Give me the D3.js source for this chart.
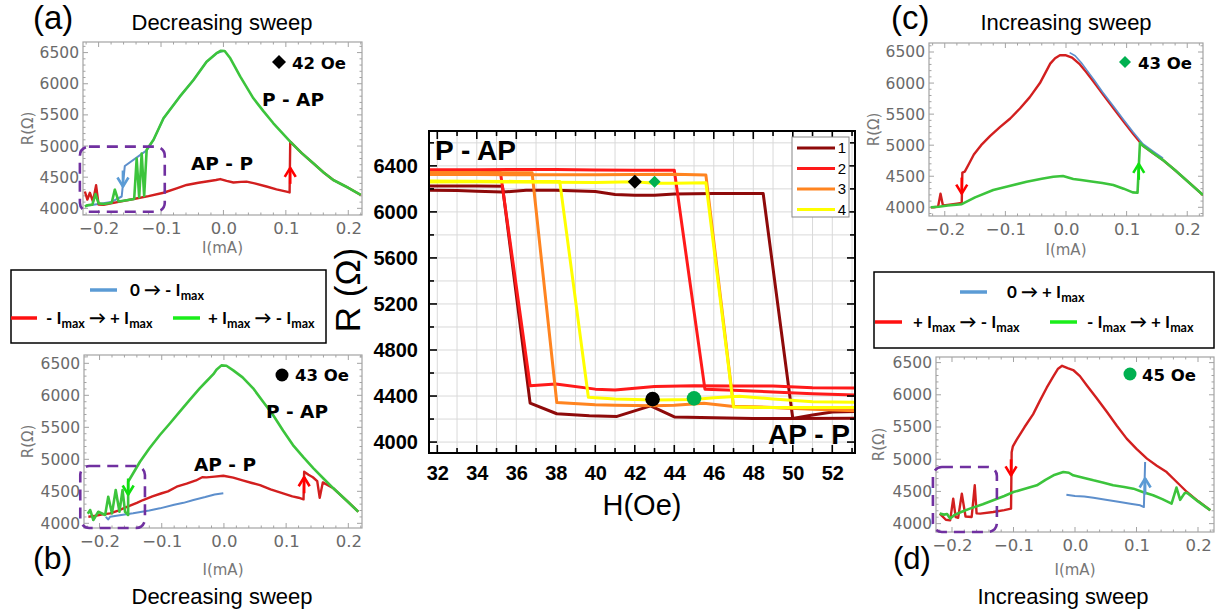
<!DOCTYPE html>
<html><head><meta charset="utf-8">
<script src="https://cdn.jsdelivr.net/npm/d3@7"></script>
<style>body{margin:0;background:#fff;}svg{display:block;}</style>
</head><body>
<script>
// ================= DATA =================
// Centre panel: R vs H hysteresis loops
const hTicks = [32,34,36,38,40,42,44,46,48,50,52];
const rTicks = [4000,4400,4800,5200,5600,6000,6400];
const loopNames = ["1","2","3","4"];
const loop1Up = [[31.6,6189],[33,6185],[34,6180],[35.3,6172],[36.5,6188],[38,6188],[40,6178],[41,6152],[42,6145],[43,6145],[44,6155],[46,6160],[48.5,6160],[50.0,4205],[51,4235],[52,4262],[53.2,4265]];
const loop1Down = [[53.2,4208],[50,4205],[48,4205],[46,4212],[44.03,4217],[42.8,4315],[41.1,4223],[39.7,4229],[38.05,4246],[36.7,4338],[35.3,6222],[34,6224],[31.6,6226]];
const loop2Up = [[31.6,6366],[34,6366],[36,6368],[38,6368],[40,6364],[42,6362],[44.0,6362],[45.55,4460],[47,4450],[49,4435],[51,4420],[53.2,4408]];
const loop2Down = [[53.2,4470],[51,4472],[49,4488],[47,4487],[45,4490],[43,4482],[41,4452],[40,4460],[38,4505],[36.7,4490],[35.2,6340],[33,6348],[31.6,6350]];
const loop3Up = [[31.6,6325],[34,6325],[36,6322],[38,6322],[40,6322],[42,6326],[44,6328],[45.6,6320],[47.0,4310],[49,4300],[51,4292],[53.2,4285]];
const loop3Down = [[53.2,4272],[51,4285],[49,4300],[47,4310],[45.5,4338],[44,4320],[43,4315],[41,4320],[40,4324],[38.05,4344],[36.8,6340],[34,6342],[31.6,6343]];
const loop4Up = [[31.6,6260],[34,6262],[36,6260],[38,6258],[40,6255],[42,6262],[43,6250],[44,6250],[45.6,6253],[47.0,4305],[49,4300],[51,4300],[53.2,4300]];
const loop4Down = [[53.2,4345],[51,4350],[49,4375],[47.3,4398],[46,4385],[45,4370],[43,4365],[41,4375],[39.65,4390],[38.2,6265],[36,6265],[31.6,6268]];
const markerH = [42, 43, 42.9, 45.0];
const markerR = [6261, 6261, 4373, 4380];

// Small panels: R(Ohm) vs I(mA)
const currentTicks = [-0.2,-0.1,0.0,0.1,0.2];
const resTicks = [4000,4500,5000,5500,6000,6500];

// (a) 42 Oe, decreasing sweep
const aBlue = [[0.000,6530],[-0.011,6490],[-0.027,6354],[-0.048,6060],[-0.070,5792],[-0.096,5445],[-0.112,5100],[-0.123,4930],[-0.158,4680],[-0.163,4190],[-0.180,4100],[-0.200,4070],[-0.220,4040]];
const aRed = [[-0.222,4270],[-0.218,4140],[-0.214,4250],[-0.209,4110],[-0.204,4370],[-0.200,4060],[-0.192,4055],[-0.170,4100],[-0.144,4150],[-0.120,4195],[-0.096,4250],[-0.075,4320],[-0.059,4375],[-0.040,4410],[-0.027,4430],[-0.012,4455],[-0.005,4470],[0.005,4440],[0.016,4415],[0.028,4425],[0.037,4428],[0.050,4400],[0.069,4350],[0.085,4305],[0.101,4268],[0.106,4255],[0.107,5070],[0.125,4890],[0.144,4723],[0.160,4580],[0.176,4455],[0.200,4330],[0.220,4215]];
const aGreen = [[0.220,4215],[0.200,4330],[0.176,4455],[0.160,4580],[0.144,4723],[0.125,4890],[0.107,5070],[0.080,5365],[0.064,5560],[0.048,5766],[0.027,6113],[0.011,6408],[0.002,6525],[-0.004,6530],[-0.011,6490],[-0.027,6354],[-0.048,6060],[-0.070,5792],[-0.096,5445],[-0.112,5100],[-0.123,4940],[-0.127,4200],[-0.131,4880],[-0.135,4180],[-0.139,4800],[-0.143,4150],[-0.155,4130],[-0.168,4110],[-0.174,4300],[-0.179,4090],[-0.192,4070],[-0.200,4080],[-0.205,4230],[-0.210,4060],[-0.218,4050],[-0.222,4030]];
const aArrowRed = [0.107, 4650];
const aArrowBlue = [-0.161, 4350];
const aBox = [-0.230, -0.094, 3946, 4990];

// (b) 43 Oe, decreasing sweep
const bBlue = [[-0.001,4469],[-0.015,4450],[-0.030,4410],[-0.049,4364],[-0.065,4320],[-0.080,4290],[-0.103,4234],[-0.120,4200],[-0.146,4156],[-0.165,4130],[-0.183,4103],[-0.186,4060],[-0.190,4100]];
const bRed = [[-0.218,4103],[-0.205,4120],[-0.195,4140],[-0.183,4156],[-0.170,4200],[-0.155,4260],[-0.140,4320],[-0.130,4364],[-0.115,4420],[-0.100,4470],[-0.090,4500],[-0.076,4572],[-0.060,4620],[-0.045,4670],[-0.035,4720],[-0.028,4718],[-0.015,4730],[-0.001,4744],[0.015,4713],[0.030,4670],[0.045,4630],[0.058,4598],[0.075,4530],[0.095,4469],[0.110,4420],[0.120,4400],[0.128,4375],[0.129,4806],[0.136,4760],[0.143,4720],[0.150,4660],[0.154,4400],[0.159,4640],[0.176,4547],[0.200,4330],[0.216,4181]];
const bGreen = [[0.216,4181],[0.200,4330],[0.176,4547],[0.160,4700],[0.144,4859],[0.128,5030],[0.111,5223],[0.095,5450],[0.079,5692],[0.063,5900],[0.047,6109],[0.030,6280],[0.015,6390],[0.004,6462],[-0.004,6468],[-0.012,6400],[-0.017,6330],[-0.028,6220],[-0.039,6109],[-0.055,5930],[-0.071,5744],[-0.087,5560],[-0.103,5380],[-0.120,5170],[-0.135,4962],[-0.154,4650],[-0.154,4130],[-0.159,4181],[-0.163,4520],[-0.168,4181],[-0.174,4520],[-0.180,4156],[-0.186,4416],[-0.191,4130],[-0.202,4181],[-0.210,4052],[-0.215,4208],[-0.219,4150]];
const bArrowGreen = [-0.154, 4450];
const bArrowRed = [0.129, 4720];
const bBox = [-0.231, -0.127, 3927, 4895];

// (c) 43 Oe, increasing sweep
const cBlue = [[0.006,6490],[0.015,6440],[0.025,6330],[0.035,6200],[0.047,6040],[0.060,5860],[0.078,5630],[0.095,5410],[0.111,5210],[0.127,5020],[0.144,4900],[0.160,4790]];
const cRed = [[0.226,4198],[0.205,4380],[0.182,4580],[0.160,4760],[0.144,4870],[0.127,4990],[0.111,5180],[0.095,5380],[0.078,5600],[0.060,5830],[0.045,6030],[0.033,6180],[0.023,6300],[0.010,6410],[0.000,6447],[-0.010,6447],[-0.018,6400],[-0.026,6313],[-0.043,6000],[-0.060,5770],[-0.076,5590],[-0.092,5430],[-0.109,5290],[-0.125,5150],[-0.140,5000],[-0.152,4850],[-0.160,4700],[-0.167,4575],[-0.171,4560],[-0.172,4070],[-0.180,4060],[-0.195,4040],[-0.203,4030],[-0.207,4220],[-0.211,4010],[-0.218,4000],[-0.223,4000]];
const cGreen = [[-0.223,4000],[-0.210,4010],[-0.195,4030],[-0.172,4050],[-0.150,4160],[-0.120,4278],[-0.095,4340],[-0.065,4412],[-0.040,4460],[-0.021,4492],[-0.005,4503],[0.012,4455],[0.025,4440],[0.045,4412],[0.060,4390],[0.078,4358],[0.095,4300],[0.110,4240],[0.118,4235],[0.122,5040],[0.127,4990],[0.144,4870],[0.160,4760],[0.182,4580],[0.205,4380],[0.226,4198]];
const cArrowRed = [-0.172, 4220];
const cArrowGreen = [0.120, 4700];

// (d) 45 Oe, increasing sweep
const dBlue = [[-0.014,4450],[0.000,4430],[0.015,4420],[0.030,4400],[0.050,4370],[0.073,4336],[0.090,4310],[0.106,4284],[0.112,4258],[0.114,4957]];
const dRed = [[0.220,4207],[0.200,4350],[0.182,4491],[0.165,4650],[0.149,4801],[0.133,4900],[0.117,5009],[0.100,5160],[0.084,5320],[0.068,5520],[0.052,5733],[0.035,5950],[0.019,6148],[0.008,6290],[-0.003,6385],[-0.012,6415],[-0.021,6450],[-0.028,6400],[-0.035,6290],[-0.046,6110],[-0.057,5910],[-0.068,5700],[-0.082,5500],[-0.095,5300],[-0.101,5200],[-0.103,5110],[-0.104,4233],[-0.115,4210],[-0.133,4180],[-0.154,4155],[-0.160,4160],[-0.163,4595],[-0.168,4103],[-0.178,4110],[-0.184,4466],[-0.190,4090],[-0.194,4100],[-0.198,4388],[-0.203,4051],[-0.210,4060],[-0.220,4155]];
const dGreen = [[-0.220,4155],[-0.213,4140],[-0.208,4150],[-0.203,4078],[-0.195,4140],[-0.185,4180],[-0.171,4233],[-0.150,4300],[-0.133,4362],[-0.115,4430],[-0.100,4491],[-0.080,4545],[-0.062,4595],[-0.048,4680],[-0.035,4750],[-0.019,4801],[-0.010,4790],[-0.003,4750],[0.015,4710],[0.030,4672],[0.045,4640],[0.062,4595],[0.080,4570],[0.095,4543],[0.110,4490],[0.127,4440],[0.142,4380],[0.157,4311],[0.165,4560],[0.171,4370],[0.178,4470],[0.182,4480],[0.200,4345],[0.220,4207]];
const dArrowRed = [-0.104, 4750];
const dArrowBlue = [0.114, 4700];
const dBox = [-0.231, -0.127, 3870, 4879];

// ================= DRAWING =================
const svg = d3.select('body').append('svg').attr('width',1215).attr('height',614)
  .style('font-family','"Liberation Sans", Arial, sans-serif');

const C = {green:'#3cc43c', red:'#d21f1f', blue:'#5d8fcc',
  lgGreen:'#1aee1a', lgRed:'#ff1010', lgBlue:'#5b9bd5',
  arRed:'#ff0000', arGreen:'#10e010', arBlue:'#5b9bd5', purple:'#7030a0', mk:'#00b050'};

function diamond(g, px, py, s, fill){
  g.append('path').attr('d',`M${px},${py-s}L${px+s},${py}L${px},${py+s}L${px-s},${py}Z`).attr('fill',fill);
}

function arrowHead(g, px, py, dir, color){ // dir=-1 up, +1 down ; tip at (px,py)
  g.append('line').attr('x1',px).attr('x2',px).attr('y1',py).attr('y2',py-dir*16)
    .attr('stroke',color).attr('stroke-width',2.6);
  g.append('path').attr('d',`M${px-5.5},${py-dir*9}L${px},${py}L${px+5.5},${py-dir*9}`)
    .attr('fill','none').attr('stroke',color).attr('stroke-width',2.6).attr('stroke-linejoin','round');
}

function smallPanel(p){
  const x = d3.scaleLinear().domain(p.xd).range([p.fx0,p.fx1]);
  const y = d3.scaleLinear().domain(p.yd).range([p.fy1,p.fy0]);
  const g = svg.append('g');
  const tc = '#a3a3a3';
  d3.range(-11,12).map(i=>i*0.02).forEach(v=>{
    if (v < p.xd[0] || v > p.xd[1]) return;
    const major = Math.abs(v*10-Math.round(v*10))<1e-6;
    const L = major?5:2.5;
    g.append('line').attr('x1',x(v)).attr('x2',x(v)).attr('y1',p.fy1).attr('y2',p.fy1-L).attr('stroke',tc);
    g.append('line').attr('x1',x(v)).attr('x2',x(v)).attr('y1',p.fy0).attr('y2',p.fy0+L).attr('stroke',tc);
  });
  d3.range(38,67).map(i=>i*100).forEach(v=>{
    if (v < p.yd[0] || v > p.yd[1]) return;
    const L = (v%500===0)?5:2.5;
    g.append('line').attr('y1',y(v)).attr('y2',y(v)).attr('x1',p.fx0).attr('x2',p.fx0+L).attr('stroke',tc);
    g.append('line').attr('y1',y(v)).attr('y2',y(v)).attr('x1',p.fx1).attr('x2',p.fx1-L).attr('stroke',tc);
  });
  g.append('rect').attr('x',p.fx0).attr('y',p.fy0).attr('width',p.fx1-p.fx0).attr('height',p.fy1-p.fy0)
    .attr('fill','none').attr('stroke',tc).attr('stroke-width',1.2);
  const ax = g.append('g').attr('transform',`translate(0,${p.fy1})`)
    .call(d3.axisBottom(x).tickValues(currentTicks).tickFormat(d3.format('.1f')).tickSize(0).tickPadding(p.xpad));
  ax.select('.domain').remove();
  ax.selectAll('text').attr('font-size',16.5).attr('fill','#6a6a6a').attr('font-family','"DejaVu Sans", sans-serif');
  const ay = g.append('g').attr('transform',`translate(${p.fx0},0)`)
    .call(d3.axisLeft(y).tickValues(resTicks).tickFormat(d3.format('d')).tickSize(0).tickPadding(p.ypad));
  ay.select('.domain').remove();
  ay.selectAll('text').attr('font-size',15.5).attr('fill','#6a6a6a').attr('font-family','"DejaVu Sans", sans-serif');
  g.append('text').attr('transform',`translate(${p.ylabX},${(p.fy0+p.fy1)/2}) rotate(-90)`)
    .attr('text-anchor','middle').attr('font-size',15).attr('fill','#777').attr('font-family','"DejaVu Sans", sans-serif').text('R(Ω)');
  g.append('text').attr('x',(p.fx0+p.fx1)/2).attr('y',p.xlabY).attr('text-anchor','middle')
    .attr('font-size',15).attr('fill','#777').attr('font-family','"DejaVu Sans", sans-serif').text('I(mA)');
  const clipId='clip'+p.id;
  g.append('clipPath').attr('id',clipId).append('rect').attr('x',p.fx0).attr('y',p.fy0-2).attr('width',p.fx1-p.fx0).attr('height',p.fy1-p.fy0+2);
  const cg = g.append('g').attr('clip-path',`url(#${clipId})`);
  const line = d3.line().x(d=>x(d[0])).y(d=>y(d[1]));
  p.series.forEach(s=>{
    cg.append('path').attr('d',line(s.data)).attr('fill','none').attr('stroke',s.color)
      .attr('stroke-width',s.w).attr('stroke-linejoin','round');
  });
  if (p.box){
    const b=p.box;
    g.append('rect').attr('x',x(b[0])).attr('y',y(b[3])).attr('width',x(b[1])-x(b[0])).attr('height',y(b[2])-y(b[3]))
      .attr('rx',9).attr('fill','none').attr('stroke',C.purple).attr('stroke-width',2.6).attr('stroke-dasharray','11,7');
  }
  p.arrows.forEach(a=> arrowHead(g, x(a.d[0]), y(a.d[1]), a.dir, a.color));
  const T = (tx,ty,txt,size,opt={})=> g.append('text').attr('x',tx).attr('y',ty).attr('font-size',size)
      .attr('font-weight',opt.w||'normal').attr('fill',opt.fill||'#000').attr('text-anchor',opt.anchor||'start')
      .attr('font-family',opt.ff||'"Liberation Sans", Arial, sans-serif').text(txt);
  T(p.title[0],p.title[1],p.title[2],22,{anchor:'middle'});
  T(p.letter[0],p.letter[1],p.letter[2],p.letter[3]||33);
  T(p.field[0],p.field[1],p.field[2],16.5,{w:'bold',ff:'"DejaVu Sans", sans-serif'});
  if (p.mk.shape==='diamond') diamond(g, p.mk.x, p.mk.y, p.mk.s, p.mk.fill);
  else g.append('circle').attr('cx',p.mk.x).attr('cy',p.mk.y).attr('r',6.5).attr('fill',p.mk.fill);
  if (p.pap) T(p.pap[0],p.pap[1],'P - AP',18.5,{w:'bold',ff:'"DejaVu Sans", sans-serif'});
  if (p.app) T(p.app[0],p.app[1],'AP - P',18.5,{w:'bold',ff:'"DejaVu Sans", sans-serif'});
}

smallPanel({id:'a', fx0:83, fx1:362, fy0:42, fy1:215, xd:[-0.225,0.222], yd:[3893,6670], xpad:7, ypad:4, ylabX:33, xlabY:253,
  series:[{data:aBlue,color:C.blue,w:2},{data:aRed,color:C.red,w:2.4},{data:aGreen,color:C.green,w:2.6}],
  box:aBox, arrows:[{d:aArrowRed,dir:-1,color:C.arRed},{d:aArrowBlue,dir:1,color:C.arBlue}],
  title:[222,30,'Decreasing sweep'], letter:[33,29,'(a)'], field:[292,69,'42 Oe'], mk:{shape:'diamond',x:279,y:62,s:7,fill:'#000'},
  pap:[262,106], app:[191,170]});

smallPanel({id:'b', fx0:84, fx1:362, fy0:355, fy1:528, xd:[-0.225,0.222], yd:[3927,6630], xpad:7, ypad:4, ylabX:33, xlabY:575,
  series:[{data:bRed,color:C.red,w:2.4},{data:bBlue,color:C.blue,w:2},{data:bGreen,color:C.green,w:2.6}],
  box:bBox, arrows:[{d:bArrowGreen,dir:1,color:C.arGreen},{d:bArrowRed,dir:-1,color:C.arRed}],
  title:[222,604,'Decreasing sweep'], letter:[33,569,'(b)',32], field:[295,381,'43 Oe'], mk:{shape:'circle',x:282,y:375,fill:'#000'},
  pap:[266,418], app:[194,471]});

smallPanel({id:'c', fx0:929, fx1:1203, fy0:43, fy1:216, xd:[-0.226,0.226], yd:[3860,6645], xpad:7, ypad:4, ylabX:879, xlabY:255,
  series:[{data:cRed,color:C.red,w:2.4},{data:cBlue,color:C.blue,w:1.6},{data:cGreen,color:C.green,w:2.6}],
  box:null, arrows:[{d:cArrowRed,dir:1,color:C.arRed},{d:cArrowGreen,dir:-1,color:C.arGreen}],
  title:[1066,30,'Increasing sweep'], letter:[891,29,'(c)'], field:[1138,69,'43 Oe'], mk:{shape:'diamond',x:1125,y:62,s:6,fill:C.mk},
  pap:null, app:null});

smallPanel({id:'d', fx0:936, fx1:1214, fy0:357, fy1:532, xd:[-0.226,0.226], yd:[3870,6587], xpad:7, ypad:4, ylabX:884, xlabY:575,
  series:[{data:dRed,color:C.red,w:2.4},{data:dGreen,color:C.green,w:2.6},{data:dBlue,color:C.blue,w:2}],
  box:dBox, arrows:[{d:dArrowRed,dir:1,color:C.arRed},{d:dArrowBlue,dir:-1,color:C.arBlue}],
  title:[1063,604,'Increasing sweep'], letter:[893,569,'(d)',31], field:[1142,381,'45 Oe'], mk:{shape:'circle',x:1130,y:374,fill:C.mk},
  pap:null, app:null});

// ---------- legends for small panels ----------
function legendText(g, x, y, parts){
  const t = g.append('text').attr('x',x).attr('y',y).attr('font-size',17).attr('font-weight','bold')
    .attr('font-family','Lato, "Open Sans", sans-serif');
  let prevSub = false;
  parts.forEach(pt=>{
    if (pt[1]) { t.append('tspan').attr('dy',4).attr('font-size',12.5).text(pt[0]); prevSub = true; }
    else { t.append('tspan').attr('dy', prevSub ? -4 : 0).text(pt[0]); prevSub = false; }
  });
}
function smallLegend(bx, rows){
  const g = svg.append('g');
  g.append('rect').attr('x',bx[0]).attr('y',bx[1]).attr('width',bx[2]).attr('height',bx[3]).attr('fill','#fff')
    .attr('stroke','#000').attr('stroke-width',1.5);
  rows.forEach(r=>{
    g.append('line').attr('x1',r.l[0]).attr('x2',r.l[1]).attr('y1',r.l[2]).attr('y2',r.l[2]).attr('stroke',r.c).attr('stroke-width',3.5);
    legendText(g, r.t[0], r.t[1], r.parts);
  });
}
smallLegend([11,270,315,73],[
  {l:[90,117,290],c:C.lgBlue,t:[130,296],parts:[['0 → - I',0],['max',1]]},
  {l:[11,37,318],c:C.lgRed,t:[46,324],parts:[['- I',0],['max',1],[' → + I',0],['max',1]]},
  {l:[173,200,318],c:C.lgGreen,t:[208,324],parts:[['+ I',0],['max',1],[' → - I',0],['max',1]]}
]);
smallLegend([874,272,340,76],[
  {l:[960,987,292],c:C.lgBlue,t:[1007,298],parts:[['0 → + I',0],['max',1]]},
  {l:[875,902,322],c:C.lgRed,t:[913,328],parts:[['+ I',0],['max',1],[' → - I',0],['max',1]]},
  {l:[1050,1077,322],c:C.lgGreen,t:[1087,328],parts:[['- I',0],['max',1],[' → + I',0],['max',1]]}
]);

// ---------- centre panel ----------
(function(){
  const fx0=429, fx1=855, fy0=131, fy1=453;
  const x = d3.scaleLinear().domain([31.58,53.15]).range([fx0,fx1]);
  const y = d3.scaleLinear().domain([3905,6703]).range([fy1,fy0]);
  const g = svg.append('g');
  d3.range(32,54).forEach(v=> g.append('line').attr('x1',x(v)).attr('x2',x(v)).attr('y1',fy0).attr('y2',fy1).attr('stroke','#d9d9d9').attr('stroke-width',1));
  d3.range(4000,6800,200).forEach(v=> g.append('line').attr('y1',y(v)).attr('y2',y(v)).attr('x1',fx0).attr('x2',fx1).attr('stroke','#d9d9d9').attr('stroke-width',1));
  g.append('clipPath').attr('id','clipC').append('rect').attr('x',fx0).attr('y',fy0).attr('width',fx1-fx0).attr('height',fy1-fy0);
  const cg = g.append('g').attr('clip-path','url(#clipC)');
  const line = d3.line().x(d=>x(d[0])).y(d=>y(d[1]));
  const loopColors = ['#8e0a0a','#ff1a1a','#ff8420','#ffff00'];
  const loops = [[loop1Up,loop1Down],[loop2Up,loop2Down],[loop3Up,loop3Down],[loop4Up,loop4Down]];
  loops.forEach((lp,i)=> lp.forEach(br=> cg.append('path').attr('d',line(br)).attr('fill','none')
      .attr('stroke',loopColors[i]).attr('stroke-width',3).attr('stroke-linejoin','round')));
  const shapes = ['diamond','diamond','circle','circle'];
  const fills = ['#000',C.mk,'#000',C.mk];
  const sizes = [7,6,7.3,7.3];
  markerH.forEach((h,i)=>{
    const px=x(h), py=y(markerR[i]);
    if (shapes[i]==='diamond') diamond(g, px, py, sizes[i], fills[i]);
    else g.append('circle').attr('cx',px).attr('cy',py).attr('r',sizes[i]).attr('fill',fills[i]);
  });
  d3.range(4000,6800,200).forEach(v=>{
    const L = v%400===0?8:5;
    g.append('line').attr('x1',fx0).attr('x2',fx0+L).attr('y1',y(v)).attr('y2',y(v)).attr('stroke','#000').attr('stroke-width',1.6);
    g.append('line').attr('x1',fx1).attr('x2',fx1-L).attr('y1',y(v)).attr('y2',y(v)).attr('stroke','#000').attr('stroke-width',1.6);
  });
  d3.range(32,54).forEach(v=>{
    const L = v%2===0?8:5;
    g.append('line').attr('x1',x(v)).attr('x2',x(v)).attr('y1',fy1).attr('y2',fy1-L).attr('stroke','#000').attr('stroke-width',1.6);
    g.append('line').attr('x1',x(v)).attr('x2',x(v)).attr('y1',fy0).attr('y2',fy0+L).attr('stroke','#000').attr('stroke-width',1.6);
  });
  g.append('rect').attr('x',fx0).attr('y',fy0).attr('width',fx1-fx0).attr('height',fy1-fy0).attr('fill','none').attr('stroke','#000').attr('stroke-width',2);
  const ax = g.append('g').attr('transform',`translate(0,${fy1})`).call(d3.axisBottom(x).tickValues(hTicks).tickSize(0).tickPadding(13));
  ax.select('.domain').remove();
  ax.selectAll('text').attr('font-size',20).attr('font-weight','bold').attr('fill','#000').attr('font-family','"Liberation Sans", Arial, sans-serif');
  const ay = g.append('g').attr('transform',`translate(${fx0},0)`).call(d3.axisLeft(y).tickValues(rTicks).tickFormat(d3.format('d')).tickSize(0).tickPadding(11));
  ay.select('.domain').remove();
  ay.selectAll('text').attr('font-size',20).attr('font-weight','bold').attr('fill','#000').attr('font-family','"Liberation Sans", Arial, sans-serif');
  g.append('text').attr('x',(fx0+fx1)/2).attr('y',515).attr('text-anchor','middle').attr('font-size',29).text('H(Oe)');
  g.append('text').attr('transform','translate(360,290) rotate(-90)').attr('text-anchor','middle').attr('font-size',35).text('R (Ω)');
  g.append('text').attr('x',435).attr('y',160).attr('font-size',28).attr('font-weight','bold').text('P - AP');
  g.append('text').attr('x',850).attr('y',444).attr('text-anchor','end').attr('font-size',28).attr('font-weight','bold').text('AP - P');
  const lg = g.append('g');
  lg.append('rect').attr('x',792).attr('y',137).attr('width',57).attr('height',80).attr('fill','#fff').attr('stroke','#888').attr('stroke-width',1);
  loopNames.forEach((n,i)=>{
    const ly = 148 + i*20.5;
    lg.append('line').attr('x1',797).attr('x2',835).attr('y1',ly).attr('y2',ly).attr('stroke',loopColors[i]).attr('stroke-width',3);
    lg.append('text').attr('x',842).attr('y',ly+5).attr('text-anchor','middle').attr('font-size',15).text(n);
  });
})();
</script>
</body></html>
